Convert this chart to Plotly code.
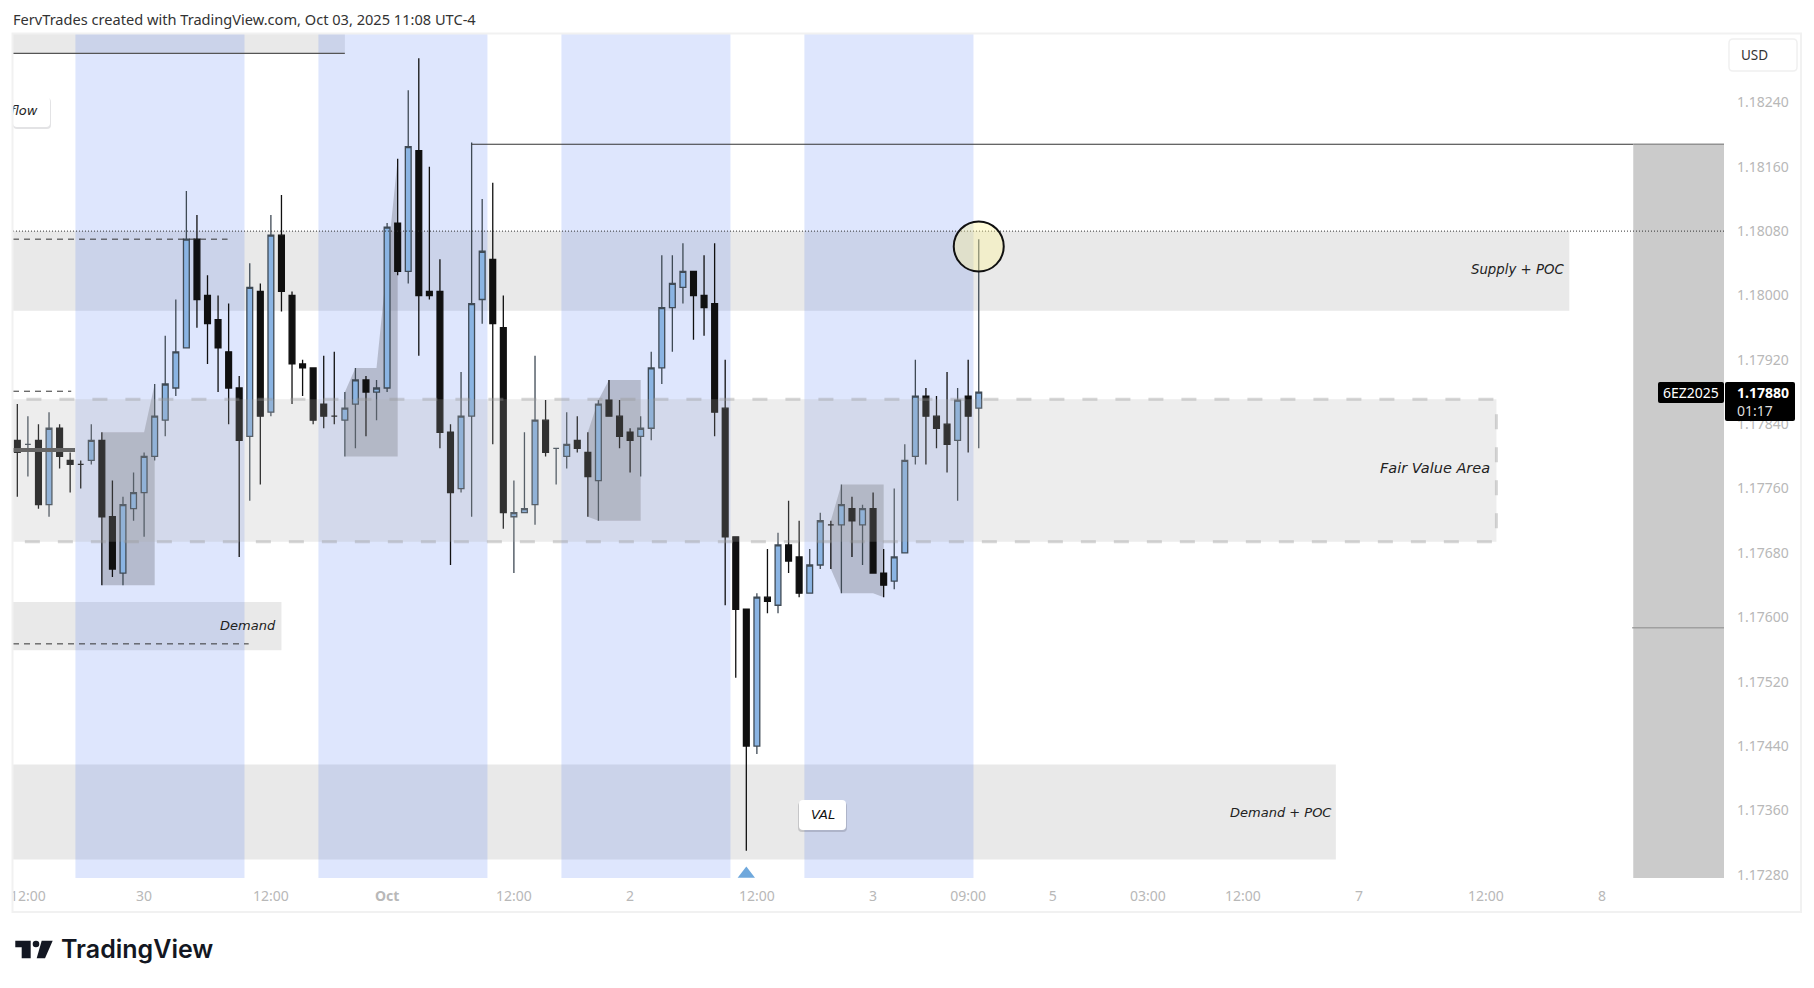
import plotly.graph_objects as go

# hourly candles
opens = [1.1782,1.17815,1.1782,1.1774,1.17835,1.17795,1.1779,1.17795,1.1782,1.17725,
         1.17655,1.17735,1.17755,1.178,1.17845,1.17885,1.17935,1.1807,1.18,1.1797,
         1.1793,1.17885,1.17825,1.18005,1.17855,1.18075,1.18,1.17915,1.1791,1.17865,
         1.1785,1.17845,1.17865,1.17895,1.1788,1.17885,1.1809,1.1803,1.1818,1.18005,
         1.18005,1.1783,1.1776,1.1785,1.17995,1.18045,1.1796,1.17725,1.1773,1.1774,
         1.17845,1.1781,1.178,1.1782,1.17805,1.1777,1.1787,1.1785,1.1783,1.17825,
         1.17835,1.1791,1.17985,1.1801,1.1803,1.18,1.1799,1.1786,1.177,1.1761,
         1.1744,1.17625,1.17615,1.1769,1.17675,1.1763,1.17665,1.17715,1.17715,1.17735,
         1.17715,1.17735,1.17655,1.17645,1.1768,1.178,1.17875,1.1785,1.1784,1.1782,
         1.17875,1.1786]
highs = [1.17865,1.1785,1.1784,1.17855,1.1784,1.17805,1.17795,1.1784,1.1783,1.1777,
         1.1775,1.1778,1.17805,1.1789,1.1795,1.17995,1.1813,1.181,1.18025,1.18,
         1.1799,1.179,1.1804,1.18015,1.181,1.18125,1.18005,1.1792,1.1791,1.17925,
         1.1793,1.1788,1.1791,1.179,1.17895,1.1809,1.1817,1.18255,1.18295,1.1816,
         1.18045,1.1784,1.17905,1.1819,1.1812,1.1814,1.18,1.1777,1.1783,1.17925,
         1.1787,1.1781,1.17855,1.1785,1.1783,1.1787,1.17895,1.1787,1.17835,1.1785,
         1.1793,1.1805,1.1805,1.18065,1.1803,1.1805,1.18065,1.1792,1.177,1.1761,
         1.1763,1.17685,1.17705,1.17745,1.1772,1.17685,1.1773,1.1772,1.17765,1.1775,
         1.1774,1.17755,1.17685,1.1776,1.17815,1.1792,1.17885,1.17875,1.17905,1.17885,
         1.1792,1.1807]
lows = [1.1775,1.17775,1.17735,1.17725,1.17785,1.17755,1.1776,1.1779,1.1764,1.1765,
        1.1764,1.1772,1.177,1.17795,1.17825,1.17875,1.17935,1.1796,1.17915,1.1788,
        1.1784,1.17675,1.17745,1.17765,1.1785,1.1798,1.17865,1.17875,1.1784,1.17835,
        1.1784,1.178,1.1781,1.17825,1.17845,1.1788,1.18025,1.18015,1.17925,1.17995,
        1.1781,1.17665,1.17755,1.17725,1.17965,1.17815,1.1771,1.17655,1.1773,1.17715,
        1.178,1.17765,1.17785,1.17805,1.17725,1.1772,1.1785,1.1781,1.1778,1.17775,
        1.1782,1.1789,1.1793,1.1799,1.17945,1.1795,1.17825,1.17615,1.17525,1.1731,
        1.1743,1.17605,1.17605,1.17655,1.17625,1.1763,1.1766,1.1766,1.1763,1.17675,
        1.17665,1.17655,1.17625,1.17635,1.1768,1.1779,1.1779,1.1781,1.1778,1.17745,
        1.17805,1.1781]
closes = [1.17805,1.17815,1.1774,1.17835,1.178,1.1779,1.1779,1.1782,1.17725,1.1766,
          1.1774,1.17755,1.178,1.1785,1.1789,1.1793,1.1807,1.17995,1.17965,1.17935,
          1.17885,1.1782,1.1801,1.1785,1.18075,1.18005,1.17915,1.1791,1.17845,1.1785,
          1.1785,1.1786,1.17895,1.1788,1.17885,1.18085,1.1803,1.18185,1.18,1.18,
          1.1783,1.17755,1.1785,1.1799,1.18055,1.17965,1.1773,1.1773,1.17735,1.17845,
          1.17805,1.1781,1.17815,1.1781,1.17775,1.17865,1.1785,1.17825,1.1782,1.17835,
          1.1791,1.17985,1.18015,1.1803,1.18,1.17985,1.17855,1.177,1.1761,1.1744,
          1.17625,1.1762,1.1769,1.1767,1.1763,1.17665,1.1772,1.17715,1.1774,1.1772,
          1.17735,1.17655,1.1764,1.17675,1.17795,1.17875,1.1785,1.17835,1.17815,1.1787,
          1.1785,1.1788]
candles = list(range(len(opens)))

price_ticks = [1.1824,1.1816,1.1808,1.18,1.1792,1.1784,1.1776,1.1768,1.176,1.1752,1.1744,1.1736,1.1728]
price_labels = ["1.18240","1.18160","1.18080","1.18000","1.17920","1.17840","1.17760","1.17680","1.17600","1.17520","1.17440","1.17360","1.17280"]
time_ticks = [1,12,24,35,47,58,70,81,90,98,107,116,127,139,150]
time_labels = ["12:00","30","12:00","<b>Oct</b>","12:00","2","12:00","3","09:00","5","03:00","12:00","7","12:00","8"]

session_starts = [5.5,28.5,51.5,74.5]
session_ends = [21.5,44.5,67.5,90.5]

# price zones: name, top, bottom, end candle
zone_tops = [1.1808,1.17619,1.17417,1.1834]
zone_bottoms = [1.17981,1.17559,1.17299,1.18301]
zone_ends = [146.9,25,124.8,31]
zone_names = ["Supply + POC","Demand","Demand + POC"]
fair_top, fair_bottom, fair_end = 1.17871, 1.17694, 140

# grey profile polygons, (candle, price)
profiles = [
    [(8,1.1783),(12,1.1783),(13,1.1789),(13,1.1764),(8,1.1764)],
    [(31,1.178),(31,1.1788),(32,1.1791),(34,1.1791),(36,1.1817),(36,1.178)],
    [(54,1.17725),(54,1.1783),(55,1.1787),(56,1.17895),(59,1.17895),(59,1.1772),(55,1.1772)],
    [(77,1.1772),(78,1.17765),(82,1.17765),(82,1.17625),(81,1.1763),(78,1.1763),(77,1.1766)],
]

# left over levels
dash_levels = [1.17881,1.1807,1.17567]
dash_ends = [5.1,19.9,21.9]
poor_high = 1.18188
poor_high_start = 43
dotted_level = 1.1808
box_start, box_mid = 152.95, 1.17587
thick_level, thick_end = 1.17808, 5.46
top_level, top_end = 1.18301, 31
hit_candle, hit_price = 91, 1.18061
last_price = 1.1788
low_candle = 69

X_MIN, X_MAX = -0.41, 161.54
Y_MIN, Y_MAX = 1.17276, 1.18325

# the page keeps its default 8px body margin
PAGE = 8
W, H = 1814 - 2 * PAGE, 988 - 2 * PAGE
L, R, T, B = 13 - PAGE, 90 - PAGE, 34 - PAGE, 110 - PAGE


def px(x):
    return (x - 13) / 1711


def py(y):
    return 1 - (y - 34) / 844


def rounded(x0, y0, x1, y1, r):
    # rounded box, in page pixels
    pts = [
        ("M", x0 + r, y0), ("L", x1 - r, y0), ("Q", x1, y0, x1, y0 + r),
        ("L", x1, y1 - r), ("Q", x1, y1, x1 - r, y1), ("L", x0 + r, y1),
        ("Q", x0, y1, x0, y1 - r), ("L", x0, y0 + r), ("Q", x0, y0, x0 + r, y0),
    ]
    out = ""
    for p in pts:
        out += p[0] + " " + " ".join(
            f"{px(p[i]):.5f},{py(p[i+1]):.5f}" for i in range(1, len(p), 2)) + " "
    return out + "Z"


shapes = []
grey_zone = "#e9e9e9"

# below the candles
for top, bottom, end in zip(zone_tops, zone_bottoms, zone_ends):
    shapes.append(dict(type="rect", xref="x", yref="y", x0=X_MIN - 1, x1=end, y0=bottom, y1=top,
                       fillcolor=grey_zone, line_width=0, layer="below"))
for s, e in zip(session_starts, session_ends):
    shapes.append(dict(type="rect", xref="x", yref="y", x0=s, x1=e, y0=Y_MIN, y1=Y_MAX,
                       fillcolor="rgba(33,86,243,0.15)", line_width=0, layer="below"))
for poly in profiles:
    path = "M " + " L ".join(f"{c},{p}" for c, p in poly) + " Z"
    shapes.append(dict(type="path", xref="x", yref="y", path=path,
                       fillcolor="rgba(120,123,134,0.4)", line_width=0, layer="below"))
shapes.append(dict(type="line", xref="x", yref="y", x0=X_MIN - 1, x1=top_end, y0=top_level, y1=top_level,
                   line=dict(color="#555555", width=1.2), layer="below"))
# flow tag
shapes.append(dict(type="path", xref="paper", yref="paper", path=rounded(13, 98, 51, 129, 4),
                   fillcolor="rgba(60,60,70,0.14)", line_width=0, layer="below"))
shapes.append(dict(type="path", xref="paper", yref="paper", path=rounded(13, 97, 50, 127, 4),
                   fillcolor="white", line_width=0, layer="below"))

# over the candles
shapes.append(dict(type="rect", xref="x", yref="y", x0=X_MIN - 2, x1=fair_end, y0=fair_bottom, y1=fair_top,
                   fillcolor="rgba(172,172,172,0.22)",
                   line=dict(color="rgba(150,150,150,0.38)", width=3, dash="15px,18px"), layer="above"))
for lvl, end in zip(dash_levels, dash_ends):
    shapes.append(dict(type="line", xref="x", yref="y", x0=X_MIN, x1=end, y0=lvl, y1=lvl,
                       line=dict(color="#333333", width=1, dash="6px,5px"), layer="above"))
shapes.append(dict(type="line", xref="x", yref="y", x0=X_MIN, x1=thick_end, y0=thick_level, y1=thick_level,
                   line=dict(color="#666666", width=4), layer="above"))
shapes.append(dict(type="rect", xref="x", yref="y", x0=box_start, x1=X_MAX, y0=Y_MIN, y1=poor_high,
                   fillcolor="#cbcbcb", line_width=0, layer="above"))
shapes.append(dict(type="line", xref="x", yref="y", x0=poor_high_start, x1=box_start, y0=poor_high, y1=poor_high,
                   line=dict(color="#333333", width=1.2), layer="above"))
shapes.append(dict(type="line", xref="x", yref="y", x0=box_start, x1=X_MAX, y0=poor_high, y1=poor_high,
                   line=dict(color="#929292", width=1.5), layer="above"))
shapes.append(dict(type="line", xref="x", yref="y", x0=box_start - 0.1, x1=X_MAX, y0=box_mid, y1=box_mid,
                   line=dict(color="#a0a0a0", width=1.5), layer="above"))
shapes.append(dict(type="line", xref="x", yref="y", x0=X_MIN, x1=X_MAX, y0=dotted_level, y1=dotted_level,
                   line=dict(color="#333333", width=1, dash="1px,2px"), layer="above"))
shapes.append(dict(type="circle", xref="x", yref="y", xsizemode="pixel", ysizemode="pixel",
                   xanchor=hit_candle, yanchor=hit_price, x0=-25, x1=25, y0=-25, y1=25,
                   fillcolor="rgba(255,245,157,0.4)", line=dict(color="#111111", width=2), layer="above"))

# VAL tag
shapes.append(dict(type="path", xref="paper", yref="paper", path=rounded(798, 802, 847, 832, 4),
                   fillcolor="rgba(60,60,70,0.2)", line_width=0, layer="above"))
shapes.append(dict(type="path", xref="paper", yref="paper", path=rounded(799, 800, 846, 830, 4),
                   fillcolor="white", line_width=0, layer="above"))

# price scale labels
shapes.append(dict(type="path", xref="paper", yref="paper", path=rounded(1658, 382, 1724, 403, 2),
                   fillcolor="black", line_width=0, layer="above"))
shapes.append(dict(type="path", xref="paper", yref="paper", path=rounded(1725, 382, 1795, 421, 2),
                   fillcolor="black", line_width=0, layer="above"))
shapes.append(dict(type="path", xref="paper", yref="paper", path=rounded(1729, 39, 1797, 71, 4),
                   fillcolor="white", line=dict(color="#f0f0f0", width=1.5), layer="above"))

# cut the first time label and draw the frame
shapes.append(dict(type="rect", xref="paper", yref="paper", x0=px(8), x1=px(13), y0=py(885), y1=py(908),
                   fillcolor="white", line_width=0, layer="above"))
shapes.append(dict(type="rect", xref="paper", yref="paper", x0=px(12.5), x1=px(1801), y0=py(33.5), y1=py(912),
                   fillcolor="rgba(0,0,0,0)", line=dict(color="#f1f1f1", width=2), layer="above"))

# logo
shapes.append(dict(type="path", xref="paper", yref="paper", fillcolor="#131722", line_width=0, layer="above",
                   path="M " + " L ".join(f"{px(a):.5f},{py(b):.5f}" for a, b in
                                          [(15.3,940.7),(30.7,940.7),(30.7,958.3),(21.7,958.3),(21.7,947.3),(15.3,947.3)]) + " Z"))
shapes.append(dict(type="path", xref="paper", yref="paper", fillcolor="#131722", line_width=0, layer="above",
                   path="M " + " L ".join(f"{px(a):.5f},{py(b):.5f}" for a, b in
                                          [(41.7,940.7),(52.7,940.7),(45,958.3),(36.7,958.3)]) + " Z"))
shapes.append(dict(type="circle", xref="paper", yref="paper", x0=px(32.7), x1=px(39.3), y0=py(947.3), y1=py(940.7),
                   fillcolor="#131722", line_width=0, layer="above"))

notes = []


def note(x, y, text, anchor="left", size=13, color="#222222", family="DejaVu Sans", style="normal", weight="normal"):
    notes.append(dict(xref="paper", yref="paper", x=px(x), y=py(y), text=text, showarrow=False,
                      xanchor=anchor, yanchor="middle", borderpad=0,
                      font=dict(size=size, color=color, family=family, style=style, weight=weight)))


note(12, 19, "FervTrades created with TradingView.com, Oct 03, 2025 11:08 UTC-4", size=14.6, color="#333333", family="Noto Sans")
note(1565, 269, zone_names[0], "right", size=13.3, style="italic")
note(1491, 468.5, "Fair Value Area", "right", size=14.5, style="italic")
note(277, 625, zone_names[1], "right", style="italic")
note(1333, 812, zone_names[2], "right", style="italic")
note(822.5, 814, "VAL", "center", color="#111111", style="italic")
note(1740, 55, "USD", size=13.5, color="#333333", family="Noto Sans")
note(1691, 392.5, "6EZ2025", "center", size=14, color="white", family="Noto Sans")
note(1736, 393, f"{last_price:.5f}", size=14, color="white", family="Noto Sans", weight="bold")
note(1736, 410.5, "01:17", size=14, color="#dddddd", family="Noto Sans")
note(60, 949, "TradingView", size=25, color="#131722", family="Inter", weight=600)

fig = go.Figure()
fig.add_trace(go.Candlestick(
    x=candles, open=opens, high=highs, low=lows, close=closes,
    increasing=dict(line=dict(color="#3f4a55", width=1.3), fillcolor="#8ab4e3"),
    decreasing=dict(line=dict(color="#101010", width=1.3), fillcolor="#101010"),
    whiskerwidth=0, showlegend=False, hoverinfo="skip",
))
# the tag runs off the left edge so the text has to clip with the plot
fig.add_trace(go.Scatter(x=[1.9], y=[1.18228], mode="text", text=["Order flow"], textposition="middle left",
                         textfont=dict(size=13, color="#222222", family="DejaVu Sans", style="italic"),
                         cliponaxis=True, showlegend=False, hoverinfo="skip"))
fig.add_trace(go.Scatter(x=[low_candle], y=[1.17281], mode="markers",
                         marker=dict(symbol="triangle-up", size=15, color="#6fa8dc"),
                         showlegend=False, hoverinfo="skip"))

fig.update_layout(
    width=W, height=H, margin=dict(l=L, r=R, t=T, b=B, pad=0),
    paper_bgcolor="white", plot_bgcolor="white", boxgap=0.45, boxgroupgap=0,
    shapes=shapes, annotations=notes, showlegend=False,
    font=dict(family="Noto Sans", color="#b8b8b8", size=14),
)
fig.update_xaxes(range=[X_MIN, X_MAX], tickmode="array", tickvals=time_ticks, ticktext=time_labels,
                 showgrid=False, zeroline=False, showline=False, ticks="", rangeslider_visible=False,
                 ticklabeloverflow="allow", automargin=False,
                 ticklabelstandoff=8, tickfont=dict(size=14, color="#b8b8b8", family="Noto Sans"))
fig.update_yaxes(range=[Y_MIN, Y_MAX], side="right", tickmode="array", tickvals=price_ticks, ticktext=price_labels,
                 showgrid=False, zeroline=False, showline=False, ticks="", automargin=False,
                 ticklabelstandoff=12, tickfont=dict(size=14, color="#b8b8b8", family="Noto Sans"))

fig.write_html("out.html")
